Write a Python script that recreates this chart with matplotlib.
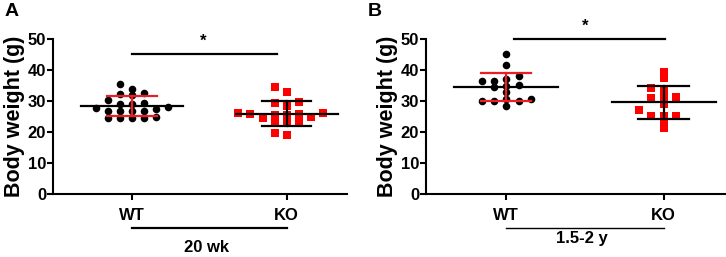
import numpy as np
import matplotlib
matplotlib.use("Agg")
import matplotlib.pyplot as plt

plt.rcParams['font.family'] = ['Liberation Sans', 'DejaVu Sans']
plt.rcParams['font.weight'] = 'bold'

groups = ['WT', 'KO']

wt_20wk = [27.4, 24.6, 33.9, 31.9, 28.9, 26.8, 30.3, 27.6, 24.6, 35.4, 29.3,
           26.8, 32.2, 28.9, 26.8, 24.6, 32.5, 26.8, 24.9, 28.2, 24.4]
ko_20wk = [26.0, 25.5, 23.3, 25.5, 33.0, 29.3, 25.8, 23.3, 19.0, 34.6, 28.4,
           24.4, 19.8, 29.8, 26.0, 23.0, 24.7, 25.7]
wt_old = [30.0, 36.5, 30.8, 38.1, 35.0, 33.0, 30.0, 45.2, 41.6, 36.5, 34.4,
          30.8, 37.0, 35.2, 28.4, 30.0]
ko_old = [31.4, 25.3, 33.5, 28.9, 25.3, 39.5, 37.5, 21.2, 34.1, 30.9, 25.3,
          31.1, 27.1, 23.3]

panels = [
    ('A', '20 wk', wt_20wk, ko_20wk),
    ('B', '1.5-2 y', wt_old, ko_old),
]


def swarm_offsets(values, step=0.078, gap=1.9):
    # simple column scatter: put each point in nearest free slot
    vals = np.asarray(values)
    order = np.argsort(vals)
    slots = [0, -1, 1, -2, 2, -3, 3, -4, 4, -5, 5]
    placed = {}
    offs = np.zeros(len(vals))
    for i in order:
        for s in slots:
            if all(abs(vals[i] - v) >= gap for v in placed.get(s, [])):
                placed.setdefault(s, []).append(vals[i])
                offs[i] = s * step
                break
    return offs


def draw_group(ax, x, values, marker, color, sd_color):
    vals = np.asarray(values)
    offs = swarm_offsets(vals)
    ax.scatter(x + offs, vals, marker=marker, s=30 if marker == 'o' else 34,
               color=color, linewidths=0, zorder=3, clip_on=False)
    m = vals.mean()
    sd = vals.std(ddof=1)
    ax.plot([x - 0.33, x + 0.33], [m, m], color='black', lw=1.6, zorder=4)
    ax.plot([x - 0.16, x + 0.16], [m + sd, m + sd], color=sd_color, lw=1.6, zorder=4)
    ax.plot([x - 0.16, x + 0.16], [m - sd, m - sd], color=sd_color, lw=1.6, zorder=4)
    ax.plot([x, x], [m - sd, m + sd], color=sd_color, lw=1.6, zorder=4)


fig = plt.figure(figsize=(7.26, 2.57), dpi=100)
lefts = [53 / 726, 426 / 726]
widths = [294 / 726, 299 / 726]
sig = [(0.0, 0.94, 45.1, 0.46, 47.0), (0.05, 1.01, 49.9, 0.5, 51.8)]
label_y = [-17.4, -14.5]

for k, (letter, label, wt, ko) in enumerate(panels):
    ax = fig.add_axes([lefts[k], 63 / 257, widths[k], 155 / 257])
    draw_group(ax, 0, wt, 'o', 'black', '#ee1c24')
    draw_group(ax, 1, ko, 's', '#ff0000', 'black')

    ax.set_ylim(0, 50)
    ax.set_xlim(-0.51, 1.39)
    ax.set_yticks([0, 10, 20, 30, 40, 50])
    ax.set_xticks([0, 1])
    ax.set_xticklabels(groups)
    for sp in ['top', 'right']:
        ax.spines[sp].set_visible(False)
    for sp in ['left', 'bottom']:
        ax.spines[sp].set_linewidth(1.5)
    ax.tick_params(axis='y', width=1.5, length=4, labelsize=12, pad=1)
    ax.tick_params(axis='x', width=1.5, length=4, labelsize=12, pad=6)
    for t in ax.get_xticklabels() + ax.get_yticklabels():
        t.set_fontweight('bold')
    ax.set_ylabel('Body weight (g)', fontsize=15.5, fontweight='bold', labelpad=2)

    x0, x1, ys, xs, yst = sig[k]
    ax.plot([x0, x1], [ys, ys], color='black', lw=1.6, clip_on=False)
    ax.text(xs, yst, '*', ha='center', va='bottom', fontsize=12, fontweight='bold')

    # group bar below the axis
    ax.plot([0, 1], [-11, -11], color='black', lw=1.6 if k == 0 else 1.0,
            clip_on=False)
    ax.text(0.48, label_y[k], label, ha='center', va='center', fontsize=12,
            fontweight='bold')

    fig.text((5 if k == 0 else 368) / 726, 1 - 3 / 257, letter, ha='left',
             va='top', fontsize=14, fontweight='bold')

fig.savefig('out.png', dpi=100)
